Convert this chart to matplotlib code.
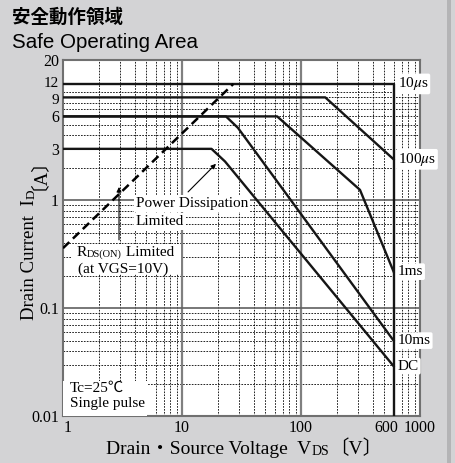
import matplotlib.pyplot as plt
from matplotlib.patches import Rectangle
from matplotlib.ticker import NullLocator
from matplotlib.transforms import ScaledTranslation

SERIF = ['Liberation Serif', 'Noto Sans CJK JP']
plt.rcParams['font.family'] = SERIF
plt.rcParams['mathtext.fontset'] = 'stix'

# values (VDS [V], ID [A])
v_10us = [1, 600, 600]
i_10us = [12, 12, 0.01]
v_100us = [1, 160, 600]
i_100us = [9, 9, 2.4]
v_1ms = [1, 63, 313, 600]
i_1ms = [6, 6, 1.25, 0.218]
v_10ms = [1, 23.4, 29.5, 600]
i_10ms = [6, 6, 4.7, 0.05]
v_dc = [1, 17.7, 23, 600]
i_dc = [3, 3, 2.29, 0.029]
v_rds = [1, 27]
i_rds = [0.36, 12]

curve_names = ['10$\\mu$s', '100$\\mu$s', '1ms', '10ms', 'DC']
x_ticks = [1, 10, 100, 600, 1000]
x_tick_labels = ['1', '10', '100', '600', '1000']
y_ticks = [0.01, 0.1, 1, 3, 6, 9, 12, 20]
y_tick_labels = ['0.01', '0.1', '1', '3', '6', '9', '12', '20']

fig = plt.figure(figsize=(4.55, 4.63), dpi=100, facecolor='#d3d3d5')
ax = fig.add_axes([63/455, 47/463, 357/455, 356/463])
ax.set_xscale('log')
ax.set_yscale('log')
ax.set_xlim(1, 1000)
ax.set_ylim(0.01, 20)

# grid: dotted minors, solid majors
dot = (0, (2, 1.5))
for dec in [1, 10, 100]:
    for m in range(2, 10):
        ax.axvline(dec*m, color='k', lw=0.6, ls=dot, zorder=1)
for v in [10, 100]:
    ax.axvline(v, color='#808080', lw=1.6, zorder=1.5)
y_minor = [d*m for d in [0.01, 0.1, 1] for m in range(2, 10)] + [10]
for v in y_minor:
    ax.axhline(v, color='k', lw=0.6, ls=dot, zorder=1)
for v in [0.1, 1]:
    ax.axhline(v, color='#606060', lw=1.2, zorder=1.5)

# curves
curves = [(v_10us, i_10us), (v_100us, i_100us), (v_1ms, i_1ms),
          (v_10ms, i_10ms), (v_dc, i_dc)]
for vx, iy in curves:
    ax.plot(vx, iy, color='#151515', lw=1.7, zorder=4)
ax.plot(v_rds, i_rds, color='k', lw=1.8, ls=(0, (3.5, 2)), zorder=4)

# curve labels on the right
label_y = [i_10us[0], i_100us[-1], i_1ms[-1], i_10ms[-1], i_dc[-1]]
for name, y in zip(curve_names, label_y):
    ax.text(650, y, name, fontsize=11, va='center', ha='left', zorder=6,
            clip_on=False,
            bbox=dict(boxstyle='round,pad=0.12', fc='white', ec='none'))

# ticks
ax.set_xticks(x_ticks)
ax.set_xticklabels(x_tick_labels)
ax.set_yticks(y_ticks)
ax.set_yticklabels(y_tick_labels)
ax.xaxis.set_minor_locator(NullLocator())
ax.yaxis.set_minor_locator(NullLocator())
ax.tick_params(length=0, labelsize=11.5, pad=3)
lbls = ax.get_xticklabels()
lbls[0].set_transform(lbls[0].get_transform() + ScaledTranslation(3/72, 0, fig.dpi_scale_trans))
lbls[3].set_transform(lbls[3].get_transform() + ScaledTranslation(-5/72, 0, fig.dpi_scale_trans))
ylb = ax.get_yticklabels()
ylb[5].set_fontsize(11)
ylb[6].set_fontsize(11)
ylb[5].set_transform(ylb[5].get_transform() + ScaledTranslation(0, -0.8/72, fig.dpi_scale_trans))
ylb[6].set_transform(ylb[6].get_transform() + ScaledTranslation(0, 1.5/72, fig.dpi_scale_trans))

for s in ax.spines.values():
    s.set_color('#707070')
    s.set_linewidth(1.5)


def chain(first, pieces, rotation=0):
    prev = first
    for s, size in pieces:
        if rotation == 0:
            prev = ax.annotate(s, xy=(1, 0), xycoords=prev, va='bottom', ha='left',
                               fontsize=size, annotation_clip=False, zorder=5)
        else:
            prev = ax.annotate(s, xy=(1, 1), xycoords=prev, va='bottom', ha='right',
                               rotation=90, fontsize=size, annotation_clip=False)
    return prev


# annotations inside the plot
ax.add_patch(Rectangle((0.025, 0.399), 0.305, 0.084, transform=ax.transAxes,
                       fc='white', ec='none', zorder=3))
t = ax.text(1.31, 0.305, 'R', fontsize=11, va='baseline', zorder=5)
chain(t, [('DS(ON)', 7.5), (' Limited', 11)])
ax.text(1.34, 0.212, '(at VGS=10V)', fontsize=11, va='baseline', zorder=5)
ax.annotate('', xy=(2.956, 1.33), xytext=(2.956, 0.43), zorder=4,
            arrowprops=dict(arrowstyle='-|>', color='k', lw=0.8, mutation_scale=7,
                            shrinkA=0, shrinkB=0))

ax.text(4.1, 0.869, 'Power Dissipation', fontsize=11, va='baseline', zorder=3,
        bbox=dict(fc='white', ec='none', pad=1.2))
ax.text(4.1, 0.592, 'Limited', fontsize=11, va='baseline', zorder=3,
        bbox=dict(fc='white', ec='none', pad=1.2))
ax.annotate('', xy=(19.3, 2.18), xytext=(11.25, 1.197), zorder=4,
            arrowprops=dict(arrowstyle='-|>', color='k', lw=0.8, mutation_scale=7,
                            shrinkA=0, shrinkB=0))

ax.add_patch(Rectangle((0, 0), 0.235, 0.098, transform=ax.transAxes,
                       fc='white', ec='none', zorder=3))
ax.text(1.145, 0.0168, 'Tc=25℃', fontsize=11, va='baseline', zorder=5)
ax.text(1.145, 0.0122, 'Single pulse', fontsize=11, va='baseline', zorder=5)

# axis labels
xl = fig.text(106/455, 9/463, 'Drain・Source Voltage  V', fontsize=14, va='baseline')
chain(xl, [('DS', 10), ('〔V〕', 14)])
yl = fig.text(38/455, 143/463, 'Drain Current  I', fontsize=13.5, rotation=90,
              ha='right', va='bottom')
chain(yl, [('D', 9.5), ('〔A〕', 13.5)], rotation=90)

# title
fig.text(12/455, 1 - 17.5/463, '安全動作領域', family='Noto Sans CJK JP',
         fontweight='bold', fontsize=13.3, va='center')
fig.text(12/455, 1 - 48.3/463, 'Safe Operating Area', family='Liberation Sans',
         fontsize=14.8, va='baseline')

# darker strip at the right edge of the panel
fig.patches.append(Rectangle((447/455, 0), 4/455, 1, transform=fig.transFigure,
                             fc='#b4b4b6', ec='none'))

fig.savefig('out.png', dpi=100, facecolor=fig.get_facecolor())
